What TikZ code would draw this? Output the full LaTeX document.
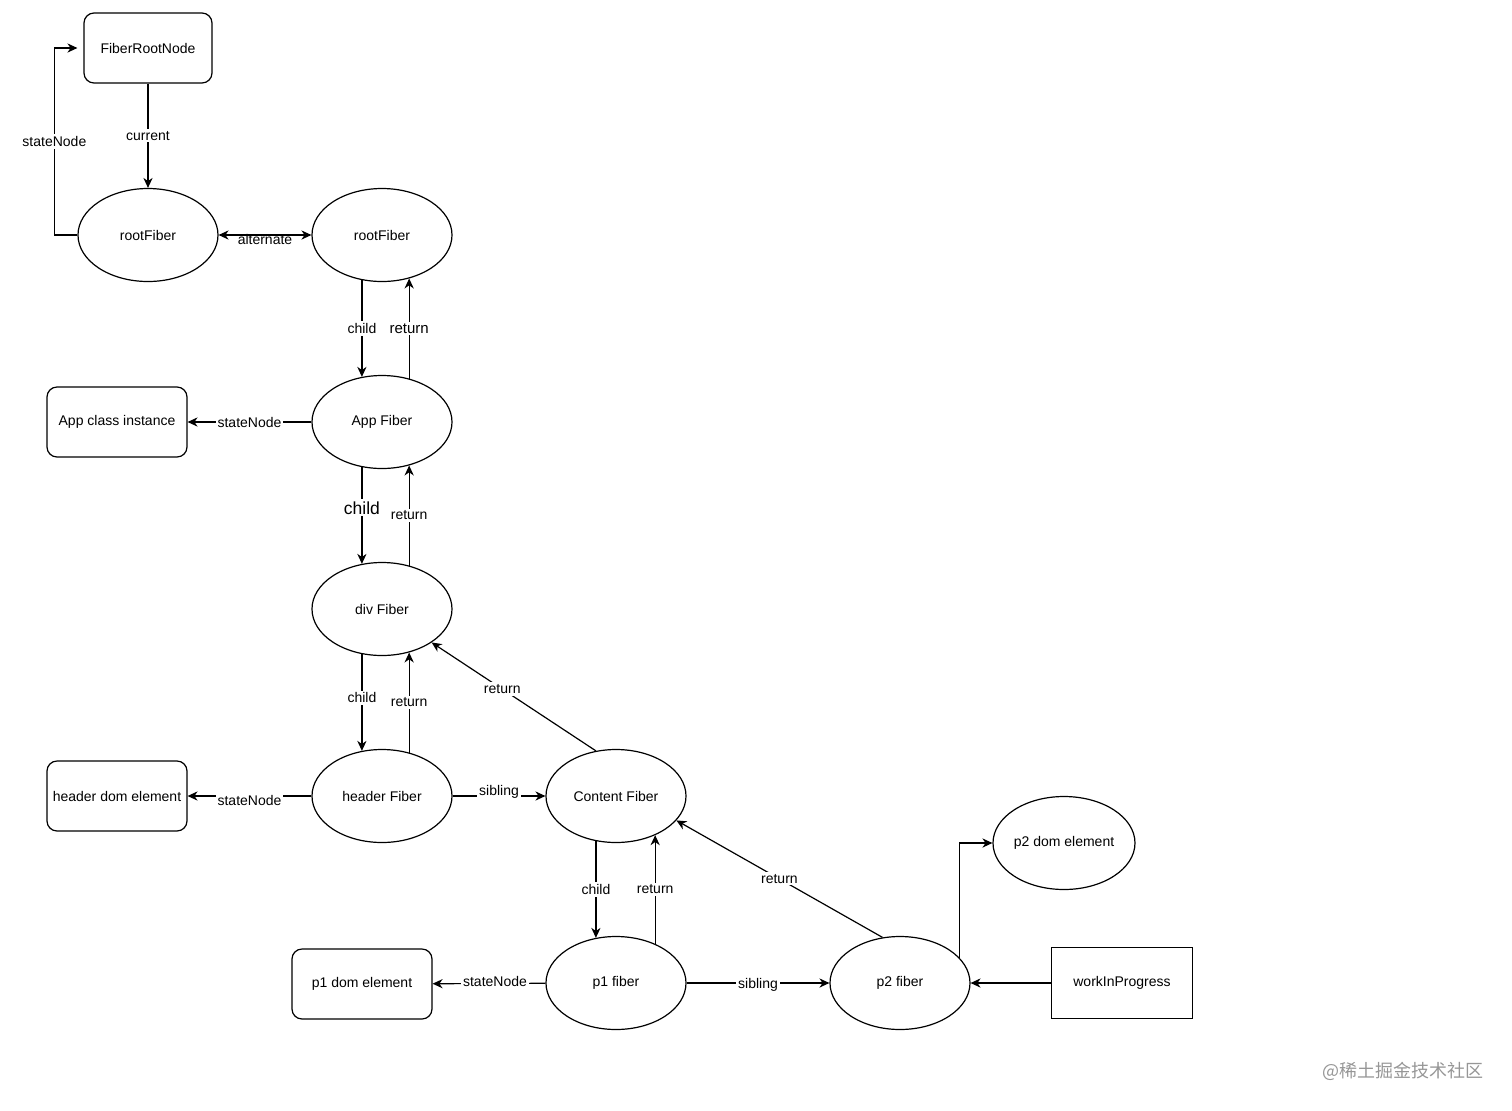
\documentclass[tikz,border=0pt]{standalone}
\usepackage{fontspec}
\setmainfont{Liberation Sans}
\newfontfamily\cjk{Noto Sans CJK SC}
\usetikzlibrary{shapes.geometric,arrows.meta,calc}
\definecolor{wmgray}{RGB}{150,150,150}
\begin{document}
\begin{tikzpicture}[x=0.5pt,y=-0.5pt,
  every node/.style={font=\fontsize{7}{8.4}\selectfont},
  fib/.style={ellipse,draw,line width=0.6pt,minimum width=70pt,minimum height=46.5pt,inner sep=0pt},
  rbox/.style={rectangle,rounded corners=5pt,draw,line width=0.6pt,minimum width=70pt,minimum height=35pt,inner sep=0pt},
  sbox/.style={rectangle,draw,line width=0.6pt,minimum width=70.5pt,minimum height=35.5pt,inner sep=0pt},
  tip/.tip={Stealth[length=5pt,width=4.6pt,inset=1.6pt]},
  edge/.style={draw,line width=0.6pt,-tip},
  lbl/.style={fill=white,inner sep=1pt},
  bigfont/.style={font=\fontsize{8.75}{10}\selectfont},
  midfont/.style={font=\fontsize{7.5}{9}\selectfont}
]
\useasboundingbox (0,0) rectangle (1512,1110);

% nodes
\node[rbox,minimum width=64pt] (frn) at (148,48) {FiberRootNode};
\node[fib] (rf1) at (148,235) {rootFiber};
\node[fib] (rf2) at (382,235) {rootFiber};
\node[fib] (app) at (382,422) {App Fiber};
\node[rbox] (appinst) at (117,422) {App class instance};
\node[fib] (div) at (382,609) {div Fiber};
\node[fib] (header) at (382,796) {header Fiber};
\node[rbox] (headerdom) at (117,796) {header dom element};
\node[fib] (content) at (616,796) {Content Fiber};
\node[fib] (p1) at (616,983) {p1 fiber};
\node[rbox] (p1dom) at (362,984) {p1 dom element};
\node[fib] (p2) at (900,983) {p2 fiber};
\node[fib] (p2dom) at (1064,843) {p2 dom element};
\node[sbox] (wip) at (1122,983) {workInProgress};

% edges
\draw[edge] (frn) -- node[lbl]{current} (rf1);
\draw[edge,shorten >=3pt] (rf1.west) -- ++(-23,0) |- node[lbl,pos=0.25]{stateNode} (frn.west);
\draw[edge,tip-tip] (rf1) -- node[yshift=-2pt]{alternate} (rf2);

\draw[edge] (rf2.246) -- node[lbl]{child} (app.114);
\draw[edge] (app.58) -- node[lbl,midfont]{return} (rf2.302);

\draw[edge] (app.246) -- node[lbl,bigfont,pos=0.42]{child} (div.114);
\draw[edge] (div.58) -- node[lbl]{return} (app.302);

\draw[edge] (div.246) -- node[lbl,pos=0.45]{child} (header.114);
\draw[edge] (header.58) -- node[lbl]{return} (div.302);

\draw[edge] (app) -- node[lbl]{stateNode} (appinst);
\draw[edge] (header) -- node[lbl,yshift=-2pt]{stateNode} (headerdom);
\draw[edge] (header) -- node[lbl,yshift=2pt]{sibling} (content);
\draw[edge] (content.114) -- node[lbl,pos=0.57]{return} (div.326);

\draw[edge] (content.246) -- node[lbl]{child} (p1.114);
\draw[edge] (p1.45) -- node[lbl]{return} (content.315);
\draw[edge] (p1) -- node[lbl,yshift=1pt,xshift=3pt]{stateNode} (p1dom);
\draw[edge] (p1) -- node[lbl,yshift=-1pt]{sibling} (p2);
\draw[edge] (p2.111) -- node[lbl]{return} (content.338.5);
\draw[edge] (p2.23) |- (p2dom.west);
\draw[edge] (wip) -- (p2);

% watermark
\node[text=wmgray,font=\cjk\fontsize{9}{10}\selectfont] (wm) at (1403,1071) {@稀土掘金技术社区};
\end{tikzpicture}
\end{document}
